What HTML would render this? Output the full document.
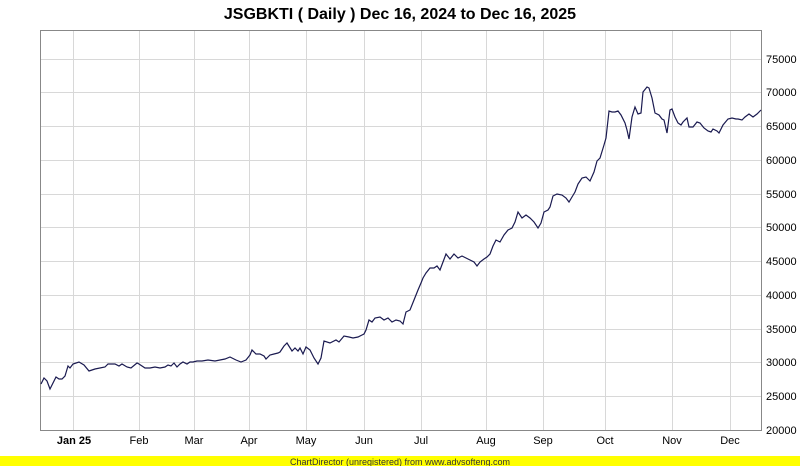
<!DOCTYPE html>
<html><head><style>
body{margin:0;background:#fff;width:800px;height:466px;overflow:hidden;font-family:"Liberation Sans",Arial,sans-serif}
</style></head><body>
<svg width="800" height="466" viewBox="0 0 800 466" xmlns="http://www.w3.org/2000/svg" font-family="Liberation Sans, Arial, sans-serif">
<text x="400" y="19" text-anchor="middle" font-size="16" font-weight="bold" fill="#000">JSGBKTI ( Daily ) Dec 16, 2024 to Dec 16, 2025</text>
<g stroke="#d8d8d8" stroke-width="1">
<line x1="73.5" y1="30" x2="73.5" y2="430"/><line x1="139.5" y1="30" x2="139.5" y2="430"/><line x1="194.5" y1="30" x2="194.5" y2="430"/><line x1="249.5" y1="30" x2="249.5" y2="430"/><line x1="306.5" y1="30" x2="306.5" y2="430"/><line x1="364.5" y1="30" x2="364.5" y2="430"/><line x1="421.5" y1="30" x2="421.5" y2="430"/><line x1="486.5" y1="30" x2="486.5" y2="430"/><line x1="543.5" y1="30" x2="543.5" y2="430"/><line x1="605.5" y1="30" x2="605.5" y2="430"/><line x1="672.5" y1="30" x2="672.5" y2="430"/><line x1="730.5" y1="30" x2="730.5" y2="430"/>
<line x1="40" y1="59.5" x2="761" y2="59.5"/><line x1="40" y1="92.5" x2="761" y2="92.5"/><line x1="40" y1="126.5" x2="761" y2="126.5"/><line x1="40" y1="160.5" x2="761" y2="160.5"/><line x1="40" y1="194.5" x2="761" y2="194.5"/><line x1="40" y1="227.5" x2="761" y2="227.5"/><line x1="40" y1="261.5" x2="761" y2="261.5"/><line x1="40" y1="295.5" x2="761" y2="295.5"/><line x1="40" y1="329.5" x2="761" y2="329.5"/><line x1="40" y1="362.5" x2="761" y2="362.5"/><line x1="40" y1="396.5" x2="761" y2="396.5"/>
</g>
<rect x="40.5" y="30.5" width="721" height="400" fill="none" stroke="#888" stroke-width="1"/>
<polyline fill="none" stroke="#1a1a50" stroke-width="1.2" points="41,384 44,378 47,381 50,389 53,383 56,377 59,379 62,379 65,376 68,366 70,368 73,364 79,362 84,365 89,371 95,369 105,367 108,364 115,364 119,366 122,364 127,367 131,368 137,363 139,364 145,368 150,368 155,367 160,368 165,367 168,365 171,366 174,363 177,367 180,364 183,362 187,364 190,362 193,362 197,361 202,361 208,360 215,361 225,359 230,357 236,360 241,362 246,360 250,355 252,350 256,354 260,354 264,356 266,359 270,355 274,354 278,353 280,352 284,346 287,343 292,351 295,348 298,351 300,348 303,354 306,347 310,350 314,358 318,364 321,358 324,341 330,343 336,340 339,342 344,336 349,337 353,338 358,337 362,335 364,334 366,330 369,320 372,322 375,318 380,317 384,320 388,318 392,322 396,320 400,321 403,324 406,312 410,310 414,300 418,290 421,283 423,278 426,273 430,268 434,268 437,266 440,270 443,262 446,254 450,259 454,254 458,258 462,256 466,258 470,260 474,262 477,266 480,262 484,259 487,257 490,254 493,246 496,240 500,242 504,235 508,230 512,228 515,222 518,212 522,218 526,215 530,218 534,222 538,228 541,223 544,212 548,210 550,207 553,196 557,194 562,195 566,198 569,202 572,197 575,192 578,184 582,178 586,177 590,181 594,172 597,161 600,158 604,145 606,138 609,111 612,112 615,112 618,111 621,115 625,123 627,130 629,139 632,117 635,107 638,114 641,113 643,92 647,87 649,88 652,98 655,113 659,115 662,119 664,120 667,133 670,110 672,109 675,117 678,123 681,125 683,122 687,118 689,127 693,127 697,122 700,123 704,128 708,131 711,132 713,129 717,131 719,133 723,125 728,119 732,118 736,119 738,119 742,120 745,117 749,114 753,117 757,114 761,110"/>
<g font-size="11" fill="#000">
<text x="766" y="63">75000</text><text x="766" y="96">70000</text><text x="766" y="130">65000</text><text x="766" y="164">60000</text><text x="766" y="198">55000</text><text x="766" y="231">50000</text><text x="766" y="265">45000</text><text x="766" y="299">40000</text><text x="766" y="333">35000</text><text x="766" y="366">30000</text><text x="766" y="400">25000</text><text x="766" y="434">20000</text>
</g>
<g font-size="11" fill="#000" text-anchor="middle">
<text x="74" y="444" font-weight="bold">Jan 25</text><text x="139" y="444">Feb</text><text x="194" y="444">Mar</text><text x="249" y="444">Apr</text><text x="306" y="444">May</text><text x="364" y="444">Jun</text><text x="421" y="444">Jul</text><text x="486" y="444">Aug</text><text x="543" y="444">Sep</text><text x="605" y="444">Oct</text><text x="672" y="444">Nov</text><text x="730" y="444">Dec</text>
</g>
<rect x="0" y="456" width="800" height="10" fill="#ffff00"/>
<text x="400" y="465" text-anchor="middle" font-size="9" fill="#333">ChartDirector (unregistered) from www.advsofteng.com</text>
</svg>
</body></html>
